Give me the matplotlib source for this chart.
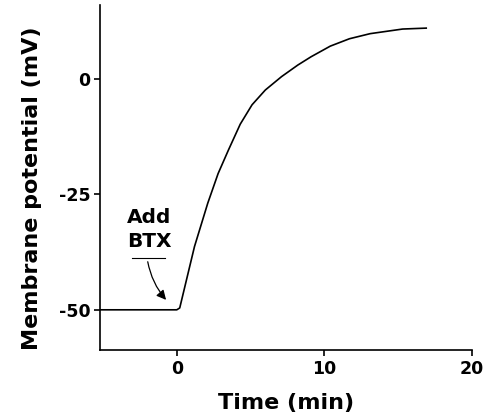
import numpy as np
import matplotlib.pyplot as plt

# trace
t_base = [-5.2, -2.0, 0.0]
v_base = [-50.0, -50.0, -50.0]
t_rise = [0.0, 0.2, 1.2, 2.1, 2.8, 3.5, 4.3, 5.1, 6.0, 7.1, 8.2, 9.1, 10.4, 11.7, 13.1, 15.3, 16.9]
v_rise = [-50.0, -49.6, -36.3, -26.9, -20.5, -15.4, -9.8, -5.6, -2.4, 0.5, 3.0, 4.8, 7.1, 8.7, 9.8, 10.8, 11.0]

xticks = [0, 10, 20]
yticks = [0, -25, -50]

plt.rcParams['font.family'] = ['DejaVu Sans']
plt.rcParams['font.weight'] = 'bold'

fig = plt.figure(figsize=(4.92, 4.19), dpi=100)
ax = fig.add_axes([0.2033, 0.1647, 0.7560, 0.8233])

t = np.concatenate([t_base, t_rise])
v = np.concatenate([v_base, v_rise])
ax.plot(t, v, color='black', lw=1.2, solid_joinstyle='round')

ax.set_xlim(-5.2, 20)
ax.set_ylim(-58.7, 16)
ax.set_xticks(xticks)
ax.set_yticks(yticks)
ax.set_yticklabels(['0', '-25', '-50'])
ax.tick_params(length=4, width=1.2, labelsize=12.5, pad=3)
for lab in ax.get_xticklabels() + ax.get_yticklabels():
    lab.set_fontweight('heavy')

for s in ['top', 'right']:
    ax.spines[s].set_visible(False)
for s in ['left', 'bottom']:
    ax.spines[s].set_linewidth(1.2)

ax.set_xlabel('Time (min)', fontsize=16, fontweight='heavy', labelpad=11)
ax.set_ylabel('Membrane potential (mV)', fontsize=16, fontweight='heavy')
ax.yaxis.set_label_coords(-0.155, 0.47)

# annotation
ax.text(-1.85, -32.6, 'Add\nBTX', ha='center', va='center', fontsize=14.5,
        fontweight='heavy', linespacing=1.35)
ax.plot([-3.05, -0.8], [-38.8, -38.8], color='black', lw=0.8)
ax.annotate('', xy=(-0.6, -48.3), xytext=(-2.0, -39.0),
            arrowprops=dict(arrowstyle='-|>', color='black', lw=0.9,
                            mutation_scale=14, connectionstyle='arc3,rad=0.15'))

fig.savefig('out.png', dpi=100)
